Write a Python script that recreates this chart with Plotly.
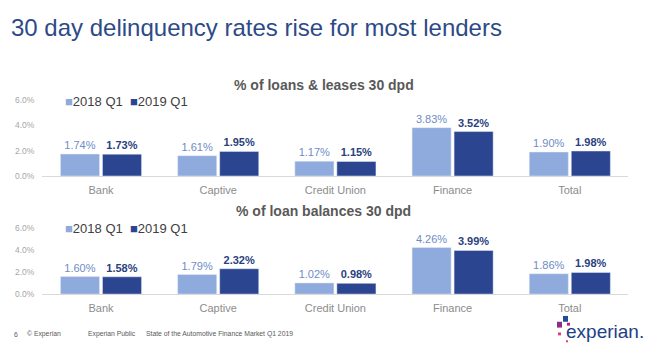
import plotly.graph_objects as go
from plotly.subplots import make_subplots

categories = ["Bank", "Captive", "Credit Union", "Finance", "Total"]
series_names = ["2018 Q1", "2019 Q1"]
loans_2018 = [1.74, 1.61, 1.17, 3.83, 1.90]
loans_2019 = [1.73, 1.95, 1.15, 3.52, 1.98]
bal_2018 = [1.60, 1.79, 1.02, 4.26, 1.86]
bal_2019 = [1.58, 2.32, 0.98, 3.99, 1.98]
y_ticks = [0, 2, 4, 6]
y_tick_labels = ["0.0%", "2.0%", "4.0%", "6.0%"]

main_title = "30 day delinquency rates rise for most lenders"
sub_titles = ["% of loans &amp; leases 30 dpd", "% of loan balances 30 dpd"]

LIGHT = "#8FAADC"
DARK = "#2B4590"
LIGHT_TXT = "#6E8CC6"
DARK_TXT = "#2A3F7E"
FONT = "Liberation Sans, Arial, sans-serif"

W, H = 650, 353
def py(p):  # pixel-from-top -> paper
    return (H - p) / H
def px(p):
    return p / W

fig = make_subplots(rows=2, cols=1)

data_sets = [(loans_2018, loans_2019), (bal_2018, bal_2019)]
for i, (a, b) in enumerate(data_sets):
    r = i + 1
    fig.add_trace(go.Bar(x=categories, y=a, name=series_names[0], marker_color=LIGHT,
                         texttemplate="%{y:.2f}%", textposition="outside",
                         textfont=dict(color=LIGHT_TXT, size=11, family=FONT),
                         cliponaxis=False, showlegend=False), row=r, col=1)
    fig.add_trace(go.Bar(x=categories, y=b, name=series_names[1], marker_color=DARK,
                         texttemplate="<b>%{y:.2f}%</b>", textposition="outside",
                         textfont=dict(color=DARK_TXT, size=11, family=FONT),
                         cliponaxis=False, showlegend=False), row=r, col=1)

x_dom = [px(42.4), px(628.4)]
y_doms = [[py(176), py(98)], [py(297.5), py(230)]]

for i in range(2):
    xa = "xaxis" if i == 0 else "xaxis2"
    ya = "yaxis" if i == 0 else "yaxis2"
    fig.layout[xa].update(domain=x_dom, showline=True, linecolor="#D9D9D9", linewidth=1,
                          showgrid=False, ticks="", ticklabelstandoff=4,
                          tickfont=dict(size=11, color="#8C8C8C", family=FONT))
    fig.layout[ya].update(domain=y_doms[i], range=[0, 6], tickmode="array",
                          tickvals=y_ticks, ticktext=y_tick_labels, showgrid=False,
                          zeroline=False, showline=False, ticks="", ticklabelstandoff=7,
                          tickfont=dict(size=8.5, color="#A6A6A6", family=FONT))

annotations = [
    dict(text=main_title, x=px(9), y=py(23), xref="paper", yref="paper",
         xanchor="left", yanchor="middle", showarrow=False,
         font=dict(size=24, color="#2D4A88", family=FONT)),
]
title_y = [82, 212]
legend_y = [99, 230]
for i in range(2):
    annotations.append(dict(text="<b>" + sub_titles[i] + "</b>", x=0.4977, y=py(title_y[i]),
                            xref="paper", yref="paper", xanchor="center", yanchor="middle",
                            showarrow=False, font=dict(size=14, color="#595959", family=FONT)))
    annotations.append(dict(
        text=(f"<span style='color:{LIGHT}'>■</span>{series_names[0]}&nbsp;&nbsp;"
              f"<span style='color:{DARK}'>■</span>{series_names[1]}"),
        x=px(63), y=py(legend_y[i]), xref="paper", yref="paper", xanchor="left",
        yanchor="middle", showarrow=False, font=dict(size=13, color="#404040", family=FONT)))

footer = [("6", 12), ("© Experian", 25), ("Experian Public", 86),
          ("State of the Automotive Finance Market Q1 2019", 144)]
for t, x in footer:
    annotations.append(dict(text=t, x=px(x), y=py(339), xref="paper", yref="paper",
                            xanchor="left", yanchor="middle", showarrow=False,
                            font=dict(size=6.8, color="#595959", family=FONT)))
annotations.append(dict(text="experian.", x=px(564), y=py(336), xref="paper", yref="paper",
                        xanchor="left", yanchor="middle", showarrow=False,
                        font=dict(size=19, color="#223F86", family=FONT)))

logo_sq = [(563, 320, 568, 326, "#1D4F91"), (557, 326, 562, 332, "#8E2A8C"),
           (567, 327, 570, 330, "#C4177F"), (558, 337, 561, 340, "#E63888"),
           (566, 345, 568, 347, "#E63888")]
shapes = [dict(type="rect", xref="paper", yref="paper", x0=px(a), x1=px(c),
               y0=py(d), y1=py(b), fillcolor=col, line=dict(width=0))
          for a, b, c, d, col in logo_sq]

fig.update_layout(width=W, height=H, margin=dict(l=0, r=0, t=0, b=0),
                  plot_bgcolor="white", paper_bgcolor="white",
                  barmode="group", bargap=0.283, bargroupgap=0.07,
                  annotations=annotations, shapes=shapes,
                  font=dict(family=FONT))

fig.write_html("out.html")
